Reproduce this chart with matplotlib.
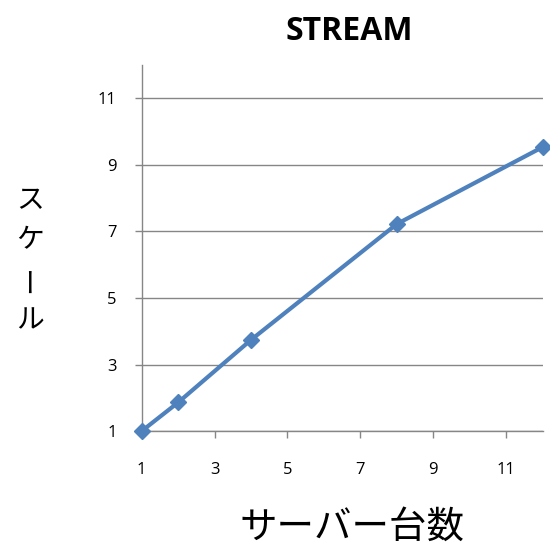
import matplotlib
matplotlib.use('Agg')
import matplotlib.pyplot as plt

# servers vs scale (STREAM)
servers = [1, 2, 4, 8, 12]
scale = [1.0, 1.86, 3.74, 7.22, 9.53]
ticks = [1, 3, 5, 7, 9, 11]
title = 'STREAM'
xlabel = 'サーバー台数'
ylabel_chars = ['ス', 'ケ', 'ー', 'ル']

jp = ['Noto Sans CJK JP', 'DejaVu Sans']
grey = '#868686'
blue = '#4F81BD'

fig = plt.figure(figsize=(5.5, 5.45), dpi=100)
ax = fig.add_axes([0.2576, 0.209, 0.729, 0.672])

ax.plot(servers, scale, color=blue, linewidth=3, marker='D', markersize=8,
        markeredgecolor=blue, clip_on=False, zorder=3)

ax.set_xlim(1, 12)
ax.set_ylim(1, 12)
ax.set_xticks(ticks)
ax.set_yticks(ticks)
ax.yaxis.grid(True, color=grey, linewidth=1)
ax.set_axisbelow(True)
for s in ['top', 'right']:
    ax.spines[s].set_visible(False)
for s in ['left', 'bottom']:
    ax.spines[s].set_color(grey)
    ax.spines[s].set_linewidth(1)
ax.tick_params(axis='both', color=grey, length=5, width=1, direction='out')
ax.tick_params(axis='x', pad=17, labelsize=12)
ax.tick_params(axis='y', pad=13, labelsize=12)
for lab in ax.get_xticklabels() + ax.get_yticklabels():
    lab.set_family('Open Sans')

fig.text(0.635, 0.943, title, ha='center', va='center', fontsize=23,
         fontweight='bold', family='Open Sans')
fig.text(0.64, 0.033, xlabel, ha='center', va='center', fontsize=27, family=jp)

ys = [200, 240, 279, 320]
for ch, y in zip(ylabel_chars, ys):
    rot = 90 if ch == 'ー' else 0
    fig.text(30 / 550, 1 - y / 545, ch, ha='center', va='center', fontsize=20,
             family=jp, rotation=rot)

plt.savefig('out.png', dpi=100)
